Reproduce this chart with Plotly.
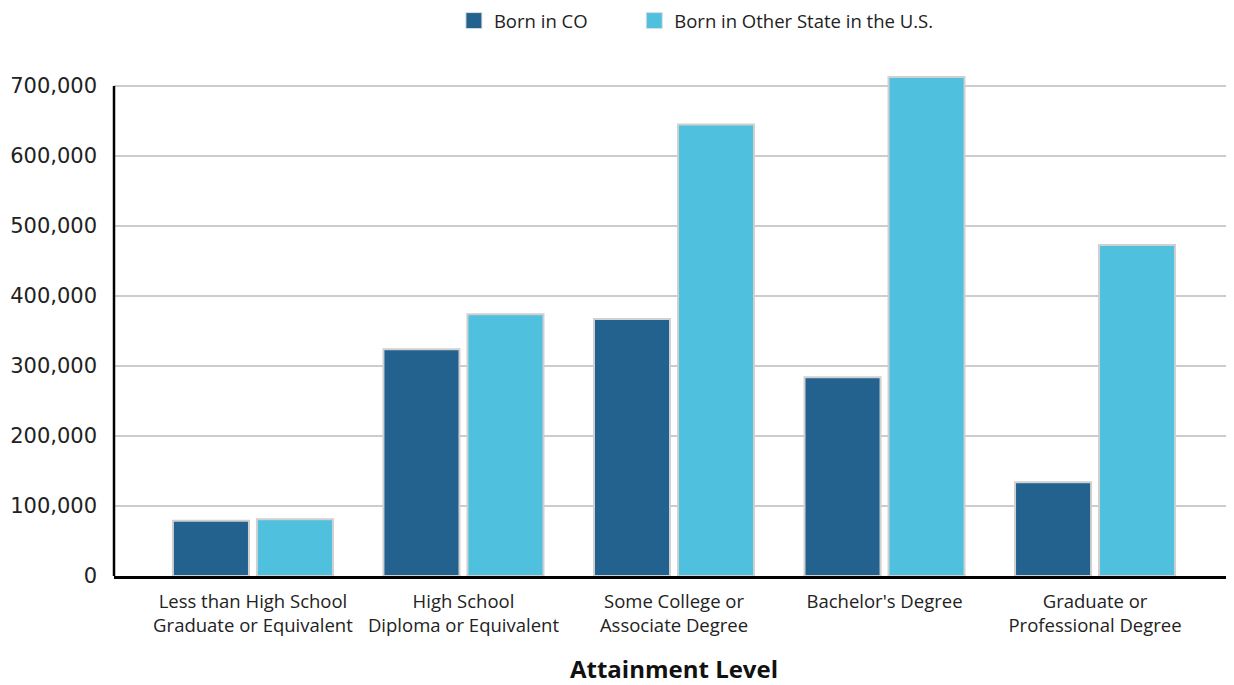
import plotly.graph_objects as go

categories = [
    "Less than High School<br>Graduate or Equivalent",
    "High School<br>Diploma or Equivalent",
    "Some College or<br>Associate Degree",
    "Bachelor's Degree",
    "Graduate or<br>Professional Degree",
]
born_co = [79000, 324000, 367000, 284000, 134000]
born_other = [81000, 374000, 645000, 713000, 473000]
series_names = ["Born in CO", "Born in Other State in the U.S."]
colors = ["#23618e", "#4fc1df"]
y_ticks = [0, 100000, 200000, 300000, 400000, 500000, 600000, 700000]

fig = go.Figure()
for name, vals, col in zip(series_names, [born_co, born_other], colors):
    fig.add_trace(go.Bar(
        x=categories, y=vals, name=name, showlegend=False,
        marker=dict(color=col, line=dict(color="#d0d0d0", width=2)),
        hoverinfo="skip",
    ))
for name, col, lg in zip(series_names, colors, ["legend", "legend2"]):
    fig.add_trace(go.Scatter(
        x=[None], y=[None], mode="markers", name=name, legend=lg,
        marker=dict(symbol="square", size=18, color=col, line=dict(color="#dddddd", width=1)),
    ))

# y-axis line drawn up to top tick only
fig.add_shape(type="line", xref="paper", yref="y", x0=0, x1=0, y0=0, y1=y_ticks[-1],
              line=dict(color="black", width=2.5))

legend_font = dict(family="Open Sans", size=18.5, color="#222222")
fig.update_layout(
    width=1226, height=677,
    margin=dict(l=106, r=0, t=57, b=109, autoexpand=False),
    paper_bgcolor="white", plot_bgcolor="white",
    barmode="group", bargap=0.202, bargroupgap=0.095,
    font=dict(family="Open Sans", color="#222222"),
    legend=dict(orientation="h", x=0.3035, xanchor="left", y=1.086, yanchor="middle",
                font=legend_font, itemclick=False),
    legend2=dict(orientation="h", x=0.4645, xanchor="left", y=1.086, yanchor="middle",
                 font=legend_font, itemclick=False),
    xaxis=dict(
        range=[-0.66, 4.66], showgrid=False, automargin=False,
        showline=True, linecolor="black", linewidth=2.5,
        tickfont=dict(family="Open Sans", size=18.5, color="#222222"),
        ticklabelstandoff=7,
        title=dict(text="<b>Attainment Level</b>", standoff=28,
                   font=dict(family="Open Sans", size=24, color="#111111")),
    ),
    yaxis=dict(
        range=[0, 730000], tickvals=y_ticks, tickformat=",d", automargin=False,
        showline=False, zeroline=False,
        showgrid=True, gridcolor="#cccccc", gridwidth=1.5,
        tickfont=dict(family="DejaVu Sans", size=21, color="#222222"),
        ticklabelstandoff=16,
    ),
)

fig.write_html("out.html")
